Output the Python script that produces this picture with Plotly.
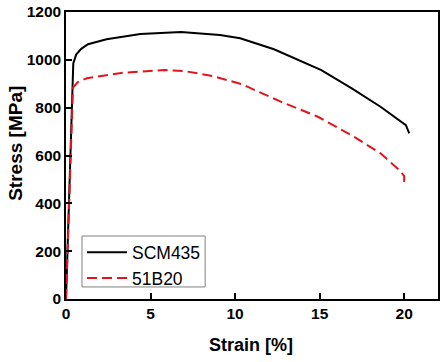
import plotly.graph_objects as go

scm_strain = [0, 0.43, 0.6, 0.9, 1.3, 2.4, 4.4, 6.8, 9.1, 10.3, 12.3, 15.1, 16.9, 18.6, 20.1, 20.3]
scm_stress = [0, 985, 1022, 1046, 1065, 1086, 1108, 1116, 1104, 1090, 1044, 957, 881, 804, 727, 693]

b20_strain = [0, 0.41, 0.7, 1.23, 3.4, 5.8, 7.0, 8.7, 10.4, 12.7, 14.9, 16.85, 18.6, 19.6, 20.0, 20.0]
b20_stress = [0, 884, 907, 923, 946, 957, 953, 932, 898, 825, 762, 686, 609, 546, 515, 477]

x_ticks = [0, 5, 10, 15, 20]
y_ticks = [0, 200, 400, 600, 800, 1000, 1200]

fig = go.Figure()
fig.add_trace(go.Scatter(x=scm_strain, y=scm_stress, mode="lines", name="SCM435",
                         line=dict(color="black", width=2)))
fig.add_trace(go.Scatter(x=b20_strain, y=b20_stress, mode="lines", name="51B20",
                         line=dict(color="#e3131c", width=2, dash="10px,5px")))

fig.update_layout(
    width=445, height=362,
    margin=dict(l=66, r=7, t=12, b=63, autoexpand=False),
    paper_bgcolor="white", plot_bgcolor="white",
    font=dict(family="Arial, Liberation Sans, sans-serif", color="black"),
    showlegend=True,
    legend=dict(x=0.043, y=0.225, xanchor="left", yanchor="top",
                borderwidth=0, bgcolor="rgba(0,0,0,0)",
                font=dict(size=17.5), tracegroupgap=0, itemwidth=40),
    shapes=[dict(type="rect", xref="paper", yref="paper",
                 x0=0.043, x1=0.374, y0=0.042, y1=0.2195,
                 line=dict(color="#808080", width=1), fillcolor="rgba(0,0,0,0)")],
    annotations=[
        dict(text="<b>Stress [MPa]</b>", xref="paper", yref="paper", x=-0.1363, y=0.5418,
             xanchor="center", yanchor="middle", textangle=-90, showarrow=False,
             font=dict(size=19)),
        dict(text="<b>Strain [%]</b>", xref="paper", yref="paper", x=0.496, y=-0.1603,
             xanchor="center", yanchor="middle", showarrow=False, font=dict(size=18)),
    ],
    xaxis=dict(range=[0, 22], tickvals=x_ticks, ticktext=[f"<b>{v}</b>" for v in x_ticks],
               ticks="inside", ticklen=6, tickwidth=1.5,
               tickcolor="black", showline=True, linecolor="black", linewidth=1.5,
               mirror=True, showgrid=False, zeroline=False, automargin=False,
               tickfont=dict(size=15.5)),
    yaxis=dict(range=[0, 1200], tickvals=y_ticks, ticktext=[f"<b>{v}</b>" for v in y_ticks],
               ticks="inside", ticklen=6, tickwidth=1.5,
               tickcolor="black", showline=True, linecolor="black", linewidth=1.5,
               mirror=True, showgrid=False, zeroline=False, automargin=False,
               tickfont=dict(size=15.5)),
)
fig.write_html("out.html", config={"displayModeBar": False},
               post_script="document.body.style.margin='0';")
